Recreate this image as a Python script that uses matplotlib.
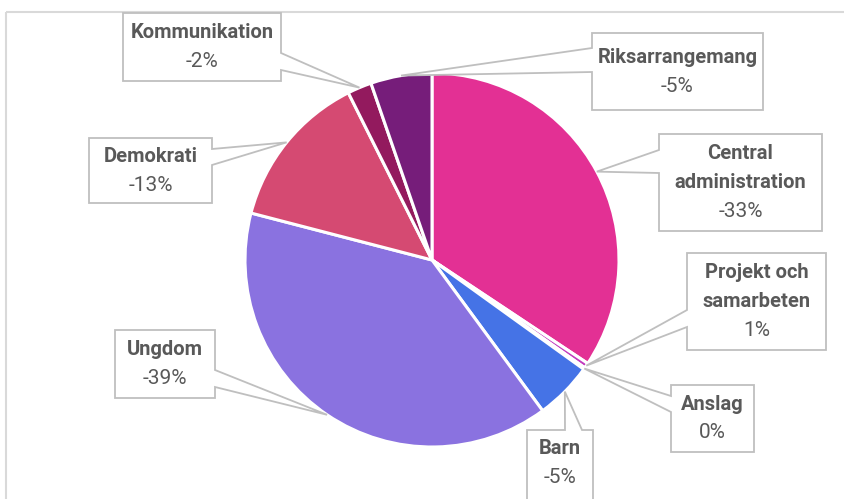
import numpy as np
import matplotlib.pyplot as plt
from matplotlib.patches import Polygon, Rectangle

# slice data (clockwise from 12 o'clock)
names = ["Central\nadministration", "Projekt och\nsamarbeten", "Anslag", "Barn",
         "Ungdom", "Demokrati", "Kommunikation", "Riksarrangemang"]
sizes = [34.4, 0.45, 0.15, 5.0, 39.2, 13.6, 2.1, 5.3]
shown = [-33, 1, 0, -5, -39, -13, -2, -5]
colors = ["#E33094", "#C23BBE", "#7A4FD0", "#4573E6",
          "#8A72E0", "#D54A72", "#931A5E", "#761D7A"]

# callout layout in pixels: box (x0, y0, x1, y1), side of tail, tail base
boxes = [(659, 134, 822, 231), (687, 253, 826, 350), (671, 385, 754, 452),
         (527, 430, 593, 502), (115, 330, 215, 398), (89, 138, 212, 203),
         (123, 13, 281, 81), (592, 33, 763, 110)]
sides = ["left", "left", "left", "top", "right", "right", "right", "left"]
bases = [(150, 173), (310, 327), (396, 412), (565, 582), (370, 387),
         (149, 165), (53, 70), (48, 72)]

W, H = 845, 499
cx, cy, R = 432, 260, 187

fig = plt.figure(figsize=(W / 100, H / 100), dpi=100)
ax = fig.add_axes([0, 0, 1, 1])

wedges, _ = ax.pie(sizes, colors=colors, startangle=-90, counterclock=True,
                   center=(cx, cy), radius=R,
                   wedgeprops=dict(edgecolor="white", linewidth=2.2))
ax.set_xlim(0, W)
ax.set_ylim(H, 0)
ax.set_aspect("equal")
ax.axis("off")

# chart area frame
ax.add_patch(Rectangle((6, 12), W, H, fill=False, edgecolor="#D9D9D9", lw=1.5, zorder=0))

gray = "#595959"
for w, name, val, box, side, base in zip(wedges, names, shown, boxes, sides, bases):
    t = np.deg2rad((w.theta1 + w.theta2) / 2)
    apex = (cx + R * np.cos(t), cy + R * np.sin(t))
    x0, y0, x1, y1 = box
    b0, b1 = base
    pts = [(x0, y0)]
    if side == "top":
        pts += [(b0, y0), apex, (b1, y0)]
    pts.append((x1, y0))
    if side == "right":
        pts += [(x1, b0), apex, (x1, b1)]
    pts.append((x1, y1))
    pts.append((x0, y1))
    if side == "left":
        pts += [(x0, b1), apex, (x0, b0)]
    ax.add_patch(Polygon(pts, closed=True, facecolor="white", edgecolor="#BFBFBF",
                         lw=1.3, zorder=5))
    nlines = name.count("\n") + 1
    xc = (x0 + x1) / 2
    if box[3] > H:
        yc = (y0 + 497) / 2
    else:
        yc = (y0 + y1) / 2
    step = 29
    top = yc - step * nlines / 2
    for i, line in enumerate(name.split("\n")):
        ax.text(xc, top + step * i, line, ha="center", va="center", fontsize=14.5,
                fontweight="bold", color=gray, family="Roboto", zorder=6)
    ax.text(xc, top + step * nlines, f"{val}%", ha="center", va="center",
            fontsize=15, color=gray, family="Roboto", zorder=6)

plt.savefig("out.png", dpi=100)
